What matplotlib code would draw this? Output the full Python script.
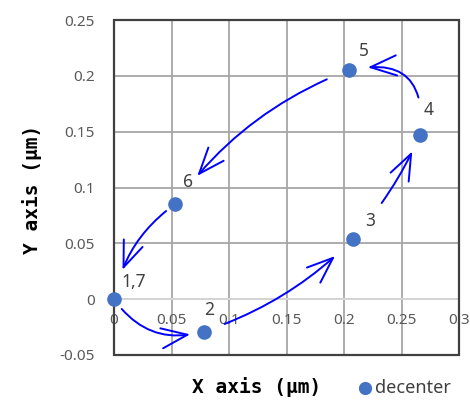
import numpy as np
import matplotlib
matplotlib.use("Agg")
import matplotlib.pyplot as plt
from matplotlib.patches import Rectangle

# decenter positions (um), visited in order 1 -> 2 -> ... -> 6 -> 1(=7)
x_pos = [0.0, 0.078, 0.208, 0.266, 0.204, 0.053]
y_pos = [0.0, -0.029, 0.054, 0.147, 0.205, 0.085]
point_labels = ["1,7", "2", "3", "4", "5", "6"]
x_ticks = [0, 0.05, 0.1, 0.15, 0.2, 0.25, 0.3]
x_ticklabels = ["0", "0.05", "0.1", "0.15", "0.2", "0.25", "0.3"]
y_ticks = [-0.05, 0, 0.05, 0.1, 0.15, 0.2, 0.25]
y_ticklabels = ["-0.05", "0", "0.05", "0.1", "0.15", "0.2", "0.25"]

# label offsets (px) and arrow styling
lab_off = [(7, 8), (0, 13), (12, 9), (4, 16), (10, 10), (8, 13)]
arrow_rad = [0.35, 0.12, 0.08, 0.7, 0.15, 0.2]
shrink_a = [9, 16, 33, 27, 17, 8]
shrink_b = [10, 18, 13, 14, 26, 22]

fig = plt.figure(figsize=(4.70, 4.01), dpi=100)
ax = fig.add_axes([114/470, 1-355/401, 345/470, 335/401])

ax.set_xlim(0, 0.3)
ax.set_ylim(-0.05, 0.25)
ax.set_xticks(x_ticks)
ax.set_xticklabels(x_ticklabels)
ax.set_yticks(y_ticks)
ax.set_yticklabels(y_ticklabels)
ax.grid(True, color="#a6a6a6", lw=1.3)
ax.set_axisbelow(True)

for s in ["top", "right", "left"]:
    ax.spines[s].set_visible(False)
ax.spines["bottom"].set_position(("data", 0))
ax.spines["bottom"].set_color("#d9d9d9")
ax.spines["bottom"].set_linewidth(1.3)
ax.add_patch(Rectangle((0, 0), 1, 1, transform=ax.transAxes, fill=False,
                       edgecolor="#404040", lw=1.6, clip_on=False, zorder=5))

ax.tick_params(axis="both", length=0, labelsize=11, labelcolor="#595959")
ax.tick_params(axis="x", pad=10)
ax.tick_params(axis="y", pad=14)
for t in ax.get_xticklabels() + ax.get_yticklabels():
    t.set_fontfamily("Noto Sans")

ax.plot(x_pos, y_pos, "o", color="#4472c4", ms=9.5, zorder=6, clip_on=False)

for i, lab in enumerate(point_labels):
    ax.annotate(lab, (x_pos[i], y_pos[i]), xytext=lab_off[i], textcoords="offset pixels",
                fontsize=12.5, color="#404040", fontfamily="Noto Sans", ha="left", va="bottom")

n = len(x_pos)
for i in range(n):
    j = (i + 1) % n
    ax.annotate("", xy=(x_pos[j], y_pos[j]), xytext=(x_pos[i], y_pos[i]),
                arrowprops=dict(arrowstyle="->,head_length=0.85,head_width=0.33",
                                color="#0000ff", lw=1.4, mutation_scale=22,
                                connectionstyle="arc3,rad=%s" % arrow_rad[i],
                                shrinkA=shrink_a[i], shrinkB=shrink_b[i]),
                zorder=7)

fig.text(257/470, 1-387/401, "X axis (μm)", ha="center", va="center",
         fontsize=14, fontweight="bold", fontfamily="DejaVu Sans Mono")
fig.text(32/470, 1-189/401, "Y axis (μm)", ha="center", va="center", rotation=90,
         fontsize=14, fontweight="bold", fontfamily="DejaVu Sans Mono")

fig.lines.append(plt.Line2D([365/470], [1-388/401], marker="o", color="#4472c4", ms=8.5,
                            transform=fig.transFigure, figure=fig))
fig.text(375/470, 1-388/401, "decenter", ha="left", va="center", fontsize=13,
         color="#404040", fontfamily="Noto Sans")

fig.savefig("out.png", dpi=100)
